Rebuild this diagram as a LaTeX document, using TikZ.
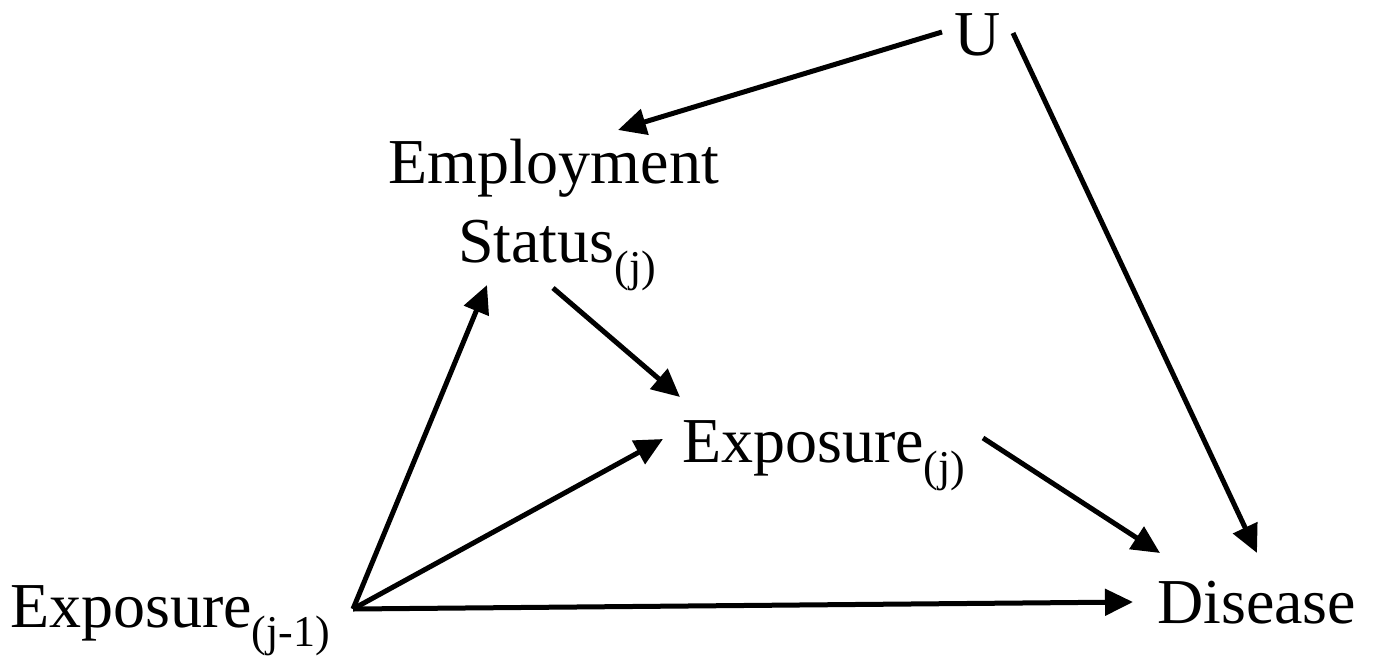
\documentclass[tikz,border=0pt]{standalone}
\usepackage{fontspec}
\setmainfont{Liberation Serif}
\usetikzlibrary{arrows.meta, positioning, calc}

\newcommand{\subidx}[1]{\raisebox{-19pt}{\fontsize{44}{44}\selectfont #1}}

\begin{document}
\begin{tikzpicture}[
        x=1pt, y=-1pt,
        var/.style={inner sep=0pt, anchor=base west, font=\fontsize{64}{79}\selectfont},
        line/.style={-{Triangle[length=28pt, width=26pt]}, line width=5pt, black}
    ]
        \useasboundingbox (0,0) rectangle (1377,662);

        % ================= NODES =================

        % Confounder
        \node[var] (u) at (954,55) {U};

        % Employment status
        \node[var] (empl) at (388,183) {Employment};
        \node[var] (stat) at (458,262) {Status\subidx{(j)}};

        % Exposures
        \node[var] (expj) at (682,462) {Exposure\subidx{(j)}};
        \node[var] (expprev) at (10,627) {Exposure\subidx{(j-1)}};

        % Outcome
        \node[var] (dis) at (1157,623) {Disease};

        % common tail of the arrows leaving Exposure(j-1)
        \coordinate (fork) at ([shift={(343,-18)}]expprev.base west);

        % ================= EDGES =================

        % From U
        \draw[line] ([shift={(-12,-23)}]u.base west) -- ([shift={(230,-53)}]empl.base west);
        \draw[line] ([shift={(59,-22)}]u.base west) -- ([shift={(100,-70)}]dis.base west);

        % From employment status
        \draw[line] ([shift={(95,26)}]stat.base west) -- ([shift={(-2,-65)}]expj.base west);

        % From previous exposure
        \draw[line] (fork) -- ([shift={(29,23)}]stat.base west);
        \draw[line] (fork) -- ([shift={(-19,-23)}]expj.base west);
        \draw[line] (fork) -- ([shift={(-24,-21)}]dis.base west);

        % From current exposure
        \draw[line] ([shift={(301,-24)}]expj.base west) -- ([shift={(3,-70)}]dis.base west);

    \end{tikzpicture}
\end{document}
